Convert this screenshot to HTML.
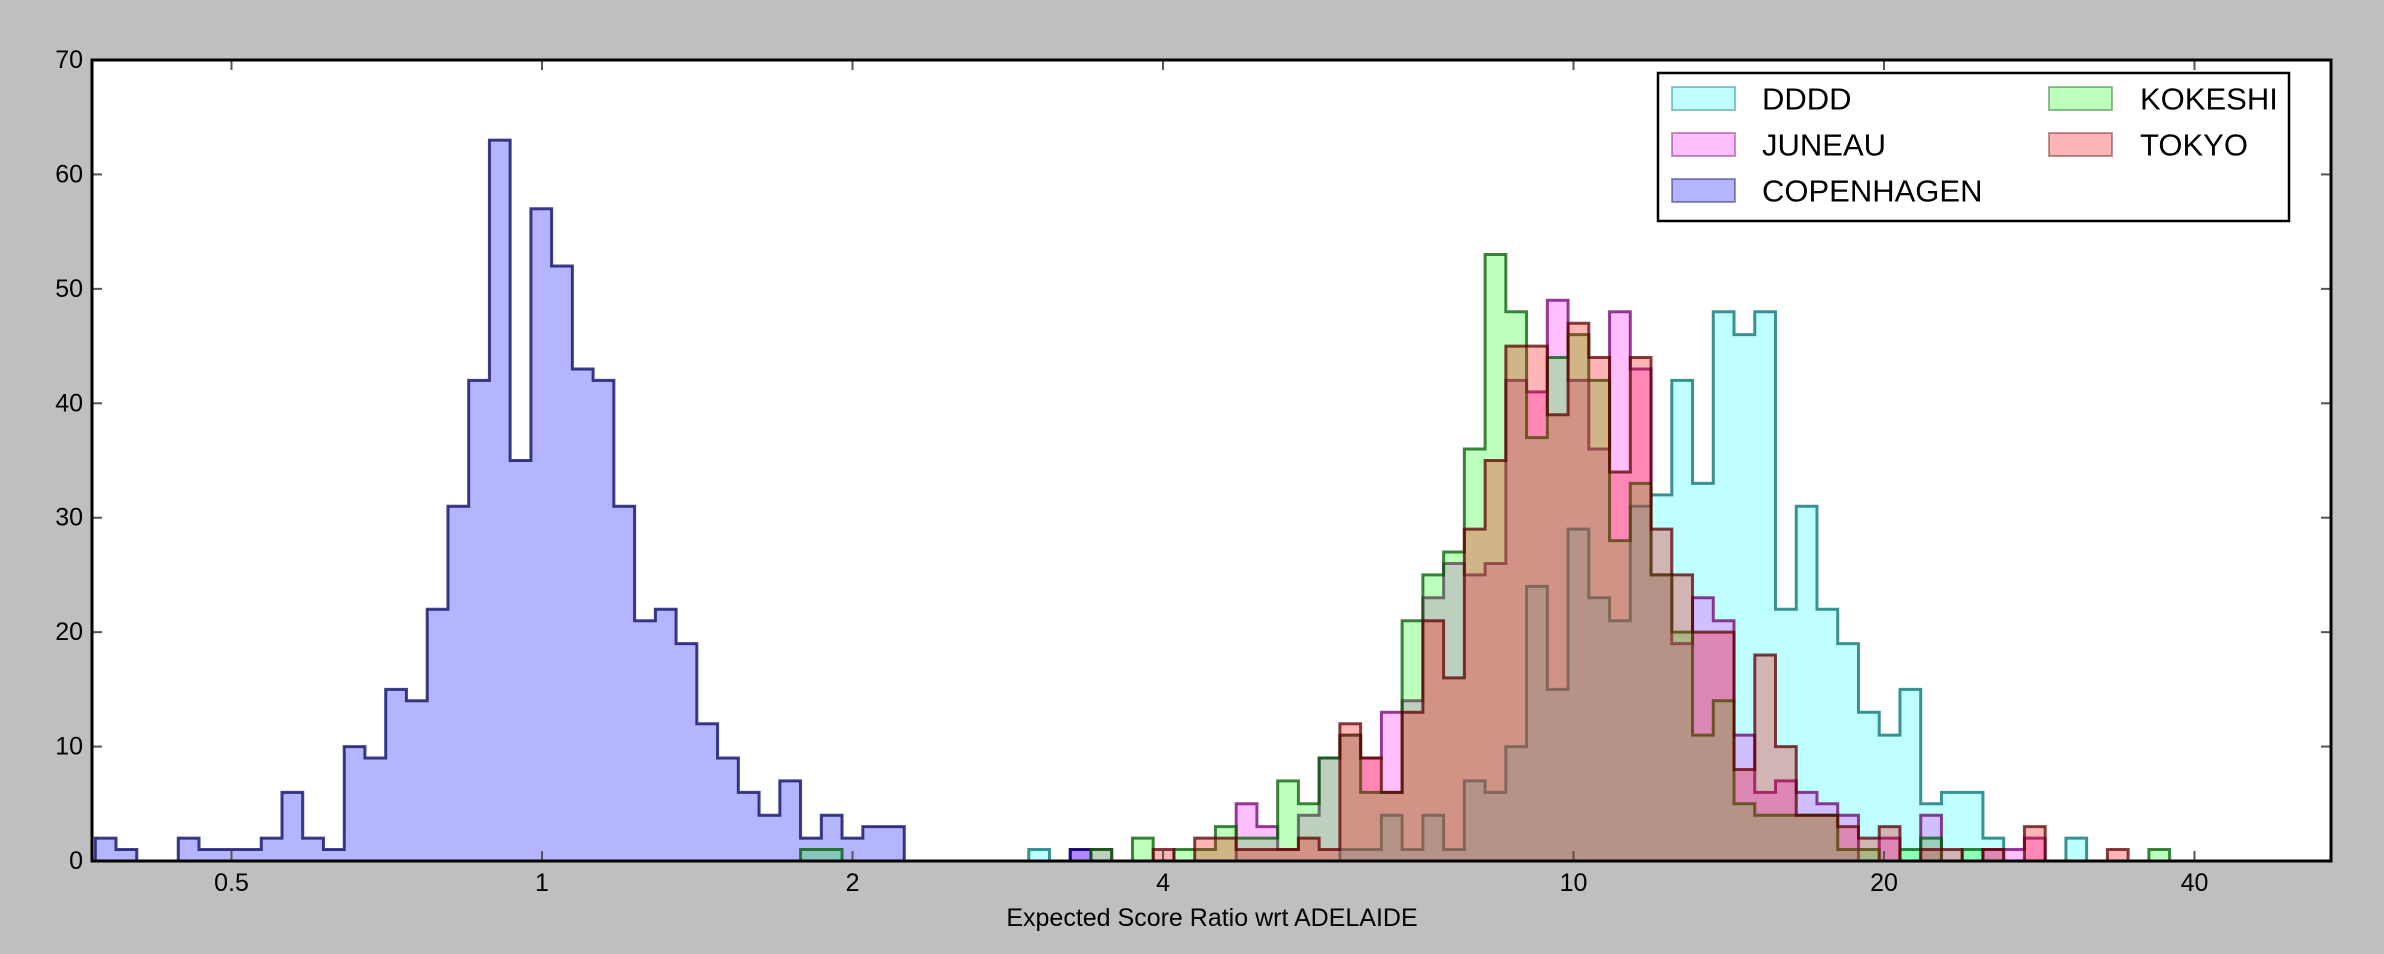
<!DOCTYPE html>
<html>
<head>
<meta charset="utf-8">
<style>
  html,body{margin:0;padding:0;background:#bfbfbf;}
  svg{display:block;}
  text{font-family:"Liberation Sans",Arial,sans-serif;fill:#000;}
</style>
</head>
<body>
<svg id="chart" xmlns="http://www.w3.org/2000/svg" width="2384" height="954" viewBox="0 0 2384 954">
  <rect x="0" y="0" width="2384" height="954" fill="#bfbfbf"/>
  <rect x="92" y="60" width="2239" height="801" fill="#ffffff"/>
  <g id="bars"></g>
  <g id="axes"></g>
  <text x="1212" y="926" font-size="25" text-anchor="middle">Expected Score Ratio wrt ADELAIDE</text>
  <g id="legend"></g>
</svg>
<script>
// ---- data ----
const seriesNames = ["DDDD", "JUNEAU", "COPENHAGEN", "KOKESHI", "TOKYO"];
const binLo = 0.3689;
const binHi = 37.84;
const binCount = 100;
const copenhagenStartBin = 0;
const copenhagenCounts = [2,1,0,0,2,1,1,1,2,6, 2,1,10,9,15,14,22,31,42,63, 35,57,52,43,42,31,21,22,19,12, 9,6,4,7,2,4,2,3,3, 0,0,0,0,0,0,0,0,1];
const rightStartBin = 34;
const ddddCounts = [0,0,0,0,0,0,0,0,0,0,0, 1,0,0,0,0,0,0,0,0,0,0, 0,0,0,0,1,1,4,1,4,1, 7,6,10,24,15,29,23,21,31,32, 42,33,48,46,48,22,31,22,19,13, 11,15,5,6,6,2,0,0,0,2, 0,0,0,0];
const juneauCounts = [0,0,0,0,0,0,0,0,0,0,0, 0,0,1,1,0,0,0,0,0,0,5, 3,1,4,9,11,9,13,14,23,26, 25,26,42,41,49,42,36,48,43,25, 19,23,21,11,6,7,6,5,4,0, 2,0,4,0,0,1,1,2,0,0, 0,0,0,0];
const kokeshiCounts = [1,1,0,0,0,0,0,0,0,0,0, 0,0,0,1,0,2,0,1,1,3,2, 2,7,5,9,11,6,6,21,25,27, 36,53,48,37,44,46,42,28,33,25, 20,11,14,5,4,4,4,4,1,1, 0,1,2,0,1,0,0,0,0,0, 0,0,0,1];
const tokyoCounts = [0,0,0,0,0,0,0,0,0,0,0, 0,0,0,0,0,0,1,0,2,2,1, 1,1,2,1,12,9,6,13,21,16, 29,35,45,45,39,47,44,34,44,29, 25,20,20,8,18,10,4,4,3,2, 3,0,1,1,0,1,0,3,0,0, 0,1,0,0];
const yTicks = [0,10,20,30,40,50,60,70];
const xTicks = [0.5,1,2,4,10,20,40];
const xTickLabels = ["0.5","1","2","4","10","20","40"];

// ---- layout ----
const NS = "http://www.w3.org/2000/svg";
const L = 92, R = 2331, T = 60, B = 861;
const xMin = 0.3662, xMax = 54.25, yMax = 70;
function xs(v){ return L + (Math.log(v) - Math.log(xMin)) / (Math.log(xMax) - Math.log(xMin)) * (R - L); }
function ys(c){ return B - c / yMax * (B - T); }
function edge(k){ return Math.exp(Math.log(binLo) + (Math.log(binHi) - Math.log(binLo)) * k / binCount); }

const styles = {
  DDDD:{fill:"#00ffff", fo:0.25, stroke:"#006e6e"},
  JUNEAU:{fill:"#ff00ff", fo:0.25, stroke:"#6e006e"},
  COPENHAGEN:{fill:"#0000ff", fo:0.29, stroke:"#00005a"},
  KOKESHI:{fill:"#00ff00", fo:0.26, stroke:"#005a00"},
  TOKYO:{fill:"#ff0000", fo:0.29, stroke:"#5a0000"}
};
const seriesData = {
  DDDD:[rightStartBin, ddddCounts],
  JUNEAU:[rightStartBin, juneauCounts],
  COPENHAGEN:[copenhagenStartBin, copenhagenCounts],
  KOKESHI:[rightStartBin, kokeshiCounts],
  TOKYO:[rightStartBin, tokyoCounts]
};

const bars = document.getElementById("bars");
seriesNames.forEach(function(name){
  const start = seriesData[name][0], counts = seriesData[name][1];
  let first = -1, last = -1;
  counts.forEach(function(c,i){ if (c > 0) { if (first < 0) first = i; last = i; } });
  if (first < 0) return;
  let d = "M" + xs(edge(start + first)).toFixed(2) + "," + B;
  for (let i = first; i <= last; i++) {
    const x0 = xs(edge(start + i)), x1 = xs(edge(start + i + 1)), y = ys(counts[i]);
    d += " L" + x0.toFixed(2) + "," + y.toFixed(2) + " L" + x1.toFixed(2) + "," + y.toFixed(2);
  }
  d += " L" + xs(edge(start + last + 1)).toFixed(2) + "," + B + " Z";
  const p = document.createElementNS(NS, "path");
  p.setAttribute("d", d);
  p.setAttribute("fill", styles[name].fill);
  p.setAttribute("fill-opacity", styles[name].fo);
  p.setAttribute("stroke", styles[name].stroke);
  p.setAttribute("stroke-opacity", "0.75");
  p.setAttribute("stroke-width", "3");
  p.setAttribute("stroke-linejoin", "miter");
  
  
  bars.appendChild(p);
});

// ---- axes ----
const axes = document.getElementById("axes");
function line(x1,y1,x2,y2,stroke,w,name){
  const l = document.createElementNS(NS, "line");
  l.setAttribute("x1",x1); l.setAttribute("y1",y1); l.setAttribute("x2",x2); l.setAttribute("y2",y2);
  l.setAttribute("stroke",stroke); l.setAttribute("stroke-width",w);
  
  
  axes.appendChild(l);
}
function label(x,y,s,anchor,name){
  const t = document.createElementNS(NS, "text");
  t.setAttribute("x",x); t.setAttribute("y",y);
  t.setAttribute("font-size","25");
  t.setAttribute("text-anchor",anchor);
  t.setAttribute("dominant-baseline","central");
  t.textContent = s;
  
  
  axes.appendChild(t);
}
yTicks.forEach(function(v){
  const y = ys(v);
  line(L, y, L + 10, y, "#555", 2, "y-tick");
  line(R - 10, y, R, y, "#555", 2, "y-tick-right");
  label(83, y, String(v), "end", "y-tick-label");
});
xTicks.forEach(function(v,i){
  const x = xs(v);
  line(x, B, x, B - 10, "#555", 2, "x-tick");
  line(x, T, x, T + 10, "#555", 2, "x-tick-top");
  label(x, 883, xTickLabels[i], "middle", "x-tick-label");
});
const frame = document.createElementNS(NS, "rect");
frame.setAttribute("x", L); frame.setAttribute("y", T);
frame.setAttribute("width", R - L); frame.setAttribute("height", B - T);
frame.setAttribute("fill", "none"); frame.setAttribute("stroke", "#000"); frame.setAttribute("stroke-width", "3");


axes.appendChild(frame);

// ---- legend ----
const legend = document.getElementById("legend");
const box = document.createElementNS(NS, "rect");
box.setAttribute("x","1658"); box.setAttribute("y","73"); box.setAttribute("width","631"); box.setAttribute("height","148");
box.setAttribute("fill","#fff"); box.setAttribute("stroke","#000"); box.setAttribute("stroke-width","2.5");


legend.appendChild(box);
const legendPos = {DDDD:[0,0], JUNEAU:[0,1], COPENHAGEN:[0,2], KOKESHI:[1,0], TOKYO:[1,1]};
seriesNames.forEach(function(name){
  const col = legendPos[name][0], row = legendPos[name][1];
  const px = col ? 2049 : 1672, tx = col ? 2140 : 1762, py = 87 + row * 46;
  const r = document.createElementNS(NS, "rect");
  r.setAttribute("x", px); r.setAttribute("y", py); r.setAttribute("width", 63); r.setAttribute("height", 23);
  r.setAttribute("fill", styles[name].fill); r.setAttribute("fill-opacity", styles[name].fo);
  r.setAttribute("stroke", styles[name].stroke); r.setAttribute("stroke-opacity", "0.4"); r.setAttribute("stroke-width", "2");
  
  
  legend.appendChild(r);
  const t = document.createElementNS(NS, "text");
  t.setAttribute("x", tx); t.setAttribute("y", py + 12);
  t.setAttribute("font-size", "31");
  t.setAttribute("dominant-baseline", "central");
  t.textContent = name;
  
  
  legend.appendChild(t);
});
</script>
</body>
</html>
